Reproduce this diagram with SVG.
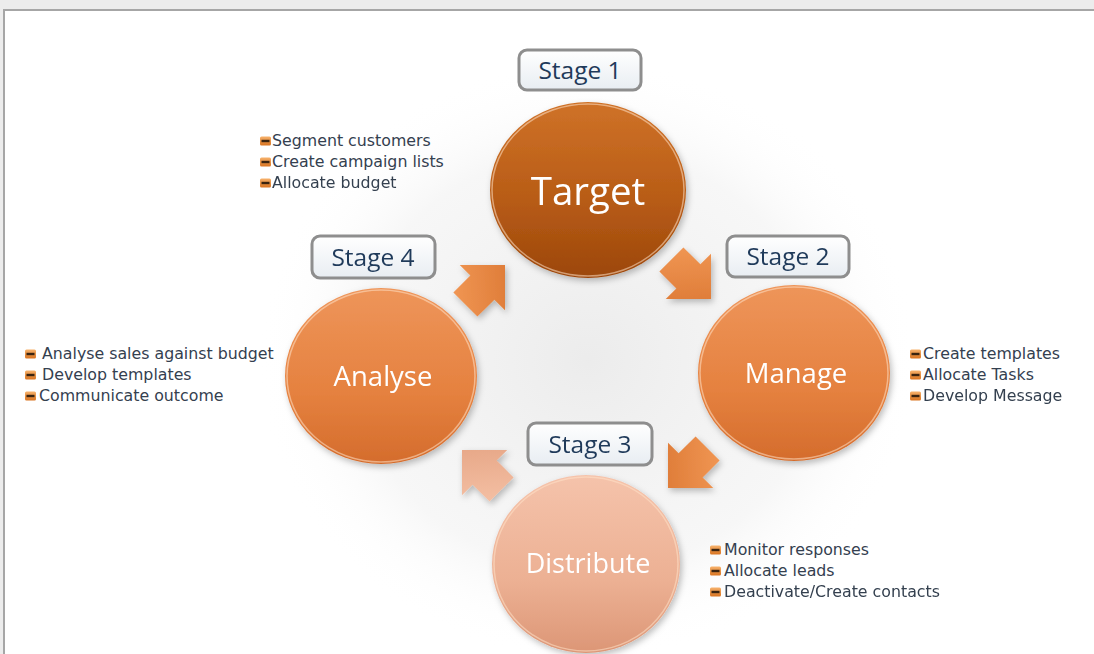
<svg xmlns="http://www.w3.org/2000/svg" width="1094" height="654" viewBox="0 0 1094 654">
  <defs>
    <style>
      .stage-box { fill: url(#boxGrad); stroke: #8e8e8e; stroke-width: 3; }
      .stage-txt { font-family: "Open Sans", "Liberation Sans", sans-serif; font-size: 24.5px; fill: #1f3a5a; text-anchor: middle; }
      .node-txt { font-family: "Open Sans", "Liberation Sans", sans-serif; fill: #ffffff; text-anchor: middle; }
      .list-txt { font-family: "DejaVu Sans", "Liberation Sans", sans-serif; font-size: 15.8px; fill: #34404f; }
      .rim { fill: none; stroke: #ffe2c8; stroke-width: 1.5; stroke-opacity: 0.55; }
    </style>
    <linearGradient id="boxGrad" x1="0" y1="0" x2="0" y2="1">
      <stop offset="0" stop-color="#ffffff"/>
      <stop offset="1" stop-color="#e8edf2"/>
    </linearGradient>
    <linearGradient id="gTarget" x1="0" y1="0" x2="0" y2="1">
      <stop offset="0" stop-color="#cf7228"/>
      <stop offset="0.55" stop-color="#b85c16"/>
      <stop offset="1" stop-color="#9c470b"/>
    </linearGradient>
    <linearGradient id="gMid" x1="0" y1="0" x2="0" y2="1">
      <stop offset="0" stop-color="#ee955a"/>
      <stop offset="0.6" stop-color="#e5813f"/>
      <stop offset="1" stop-color="#d46c2c"/>
    </linearGradient>
    <linearGradient id="gPale" x1="0" y1="0" x2="0" y2="1">
      <stop offset="0" stop-color="#f5c3ab"/>
      <stop offset="0.6" stop-color="#ecb093"/>
      <stop offset="1" stop-color="#dc9676"/>
    </linearGradient>
    <linearGradient id="gArrow" x1="0" y1="0" x2="1" y2="1">
      <stop offset="0" stop-color="#f39a58"/>
      <stop offset="1" stop-color="#d9742f"/>
    </linearGradient>
    <linearGradient id="gArrowPale" x1="0" y1="0" x2="1" y2="1">
      <stop offset="0" stop-color="#f6c3a8"/>
      <stop offset="1" stop-color="#e3a07f"/>
    </linearGradient>
    <radialGradient id="glow" cx="0.5" cy="0.5" r="0.5">
      <stop offset="0" stop-color="#dcdcdc" stop-opacity="0.55"/>
      <stop offset="0.7" stop-color="#e8e8e8" stop-opacity="0.35"/>
      <stop offset="1" stop-color="#ffffff" stop-opacity="0"/>
    </radialGradient>
    <linearGradient id="gBullet" x1="0" y1="0" x2="0" y2="1">
      <stop offset="0" stop-color="#f7b26c"/>
      <stop offset="1" stop-color="#d9731f"/>
    </linearGradient>
    <filter id="shadow" x="-20%" y="-20%" width="140%" height="140%">
      <feDropShadow dx="2" dy="3" stdDeviation="3" flood-color="#000" flood-opacity="0.25"/>
    </filter>
    <g id="bullet">
      <rect x="0" y="-4.5" width="11" height="9" rx="1.5" fill="url(#gBullet)"/>
      <rect x="1.5" y="-1.2" width="8" height="2.4" fill="#3b2410"/>
    </g>
    <path id="arrowShape" d="M0,0 L-32,-32 L-32,-17 L-56,-17 L-56,17 L-32,17 L-32,32 Z"/>
  </defs>

  <!-- background and frame -->
  <rect x="0" y="0" width="1094" height="654" fill="#ececec"/>
  <rect x="4" y="10" width="1100" height="660" fill="#ffffff" stroke="#a6a6a6" stroke-width="2"/>
  <ellipse cx="588" cy="360" rx="330" ry="300" fill="url(#glow)"/>

  <!-- connectors -->
  <g id="connectors" filter="url(#shadow)">
    <use href="#arrowShape" transform="translate(505,265) rotate(-45)" fill="url(#gArrow)"/>
    <use href="#arrowShape" transform="translate(711,299) rotate(45)" fill="url(#gArrow)"/>
    <use href="#arrowShape" transform="translate(668,488) rotate(135)" fill="url(#gArrow)"/>
    <use href="#arrowShape" transform="translate(462,450) rotate(-135)" fill="url(#gArrowPale)"/>
  </g>

  <!-- Stage 1 / Target -->
  <g id="node-target">
    <rect class="stage-box" x="519" y="50" width="122" height="40" rx="8"/>
    <text class="stage-txt" x="580" y="79">Stage 1</text>
    <ellipse cx="588" cy="190" rx="98" ry="88" fill="url(#gTarget)" filter="url(#shadow)"/>
    <ellipse class="rim" cx="588" cy="190" rx="96" ry="86"/>
    <text class="node-txt" x="588" y="205" font-size="38.5">Target</text>
    <use href="#bullet" x="260" y="141"/>
    <text class="list-txt" x="272" y="146">Segment customers</text>
    <use href="#bullet" x="260" y="162"/>
    <text class="list-txt" x="272" y="167">Create campaign lists</text>
    <use href="#bullet" x="260" y="183"/>
    <text class="list-txt" x="272" y="188">Allocate budget</text>
  </g>

  <!-- Stage 2 / Manage -->
  <g id="node-manage">
    <rect class="stage-box" x="727" y="236" width="122" height="41" rx="8"/>
    <text class="stage-txt" x="788" y="265">Stage 2</text>
    <ellipse cx="794" cy="373" rx="96" ry="88" fill="url(#gMid)" filter="url(#shadow)"/>
    <ellipse class="rim" cx="794" cy="373" rx="94" ry="86"/>
    <text class="node-txt" x="796" y="383" font-size="27.5">Manage</text>
    <use href="#bullet" x="910" y="354"/>
    <text class="list-txt" x="923" y="359">Create templates</text>
    <use href="#bullet" x="910" y="375"/>
    <text class="list-txt" x="923" y="380">Allocate Tasks</text>
    <use href="#bullet" x="910" y="396"/>
    <text class="list-txt" x="923" y="401">Develop Message</text>
  </g>

  <!-- Stage 3 / Distribute -->
  <g id="node-distribute">
    <rect class="stage-box" x="528" y="423" width="124" height="42" rx="8"/>
    <text class="stage-txt" x="590" y="453">Stage 3</text>
    <ellipse cx="586" cy="564" rx="94" ry="89" fill="url(#gPale)" filter="url(#shadow)"/>
    <ellipse class="rim" cx="586" cy="564" rx="92" ry="87"/>
    <text class="node-txt" x="588" y="573" font-size="27">Distribute</text>
    <use href="#bullet" x="710" y="550"/>
    <text class="list-txt" x="724" y="555">Monitor responses</text>
    <use href="#bullet" x="710" y="571"/>
    <text class="list-txt" x="724" y="576">Allocate leads</text>
    <use href="#bullet" x="710" y="592"/>
    <text class="list-txt" x="724" y="597">Deactivate/Create contacts</text>
  </g>

  <!-- Stage 4 / Analyse -->
  <g id="node-analyse">
    <rect class="stage-box" x="312" y="236" width="123" height="42" rx="8"/>
    <text class="stage-txt" x="373" y="266">Stage 4</text>
    <ellipse cx="381" cy="376" rx="96" ry="88" fill="url(#gMid)" filter="url(#shadow)"/>
    <ellipse class="rim" cx="381" cy="376" rx="94" ry="86"/>
    <text class="node-txt" x="383" y="386" font-size="27.5">Analyse</text>
    <use href="#bullet" x="25" y="354"/>
    <text class="list-txt" x="42" y="359">Analyse sales against budget</text>
    <use href="#bullet" x="25" y="375"/>
    <text class="list-txt" x="42" y="380">Develop templates</text>
    <use href="#bullet" x="25" y="396"/>
    <text class="list-txt" x="39" y="401">Communicate outcome</text>
  </g>
</svg>
